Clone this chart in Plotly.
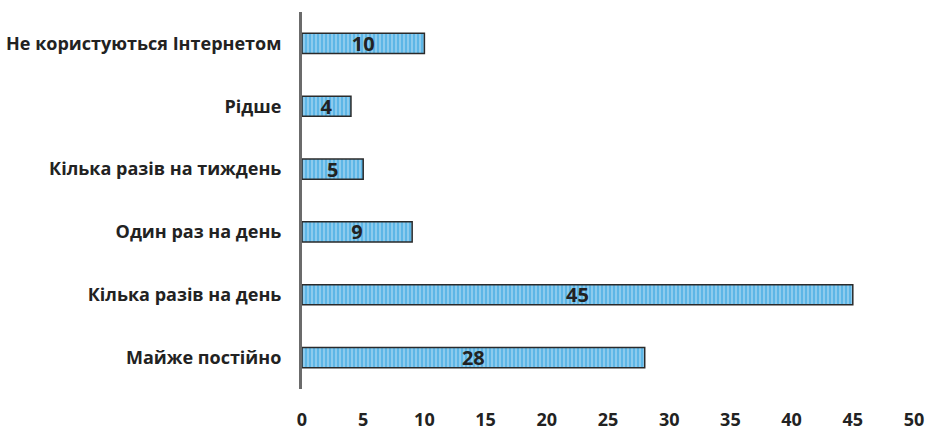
import plotly.graph_objects as go

categories = ["Не користуються Інтернетом", "Рідше", "Кілька разів на тиждень",
              "Один раз на день", "Кілька разів на день", "Майже постійно"]
values = [10, 4, 5, 9, 45, 28]
x_ticks = [0, 5, 10, 15, 20, 25, 30, 35, 40, 45, 50]

fig = go.Figure(go.Bar(
    y=categories, x=values, orientation="h", width=0.32,
    marker=dict(color="#5db6e6",
                line=dict(color="#2a2a2a", width=1.5),
                pattern=dict(shape="|", bgcolor="#5db6e6", fgcolor="#e6f3fa",
                             size=4, solidity=0.35, fillmode="overlay")),
    text=[str(v) for v in values], textposition="inside",
    insidetextanchor="middle", textangle=0, constraintext="none",
    textfont=dict(family="Open Sans", size=20, color="#222222", weight="bold"),
))
fig.update_layout(
    width=929, height=433, margin=dict(l=302, r=15, t=12, b=44),
    paper_bgcolor="white", plot_bgcolor="white", showlegend=False,
)
fig.update_xaxes(range=[0, 50], tickvals=x_ticks, showgrid=False, zeroline=False,
                 showline=False, ticks="outside", ticklen=14, tickcolor="rgba(0,0,0,0)",
                 automargin=False,
                 tickfont=dict(family="Open Sans", size=18, color="#222222", weight="bold"))
fig.update_yaxes(autorange="reversed", showline=True, linecolor="#6b6b6b", linewidth=3,
                 showgrid=False, ticks="", ticklabelstandoff=14, automargin=False,
                 tickfont=dict(family="Open Sans", size=18, color="#222222", weight="bold"))
fig.write_html("out.html")
